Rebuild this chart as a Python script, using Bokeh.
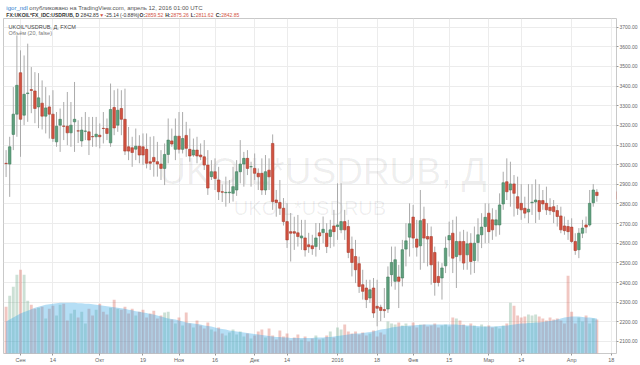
from bokeh.plotting import figure
from bokeh.layouts import column
from bokeh.models import (Range1d, FixedTicker, PrintfTickFormatter, Label, ColumnDataSource,
                          BoxAnnotation)
from bokeh.core.properties import value
from bokeh.embed import file_html
from bokeh.resources import INLINE

# ---------------- data (daily candles, 26 Aug 2015 .. 12 Apr 2016) ----------------
opens = [3007, 3003, 3154, 3257, 3468, 3252, 3362, 3382, 3375, 3294,
         3313, 3247, 3294, 3257, 3116, 3201, 3197, 3196, 3162, 3218,
         3172, 3121, 3170, 3167, 3143, 3142, 3150, 3185, 3184, 3111,
         3291, 3201, 3286, 3231, 3091, 3086, 3079, 3094, 3091, 3078,
         3015, 3037, 3015, 3003, 2981, 3052, 3121, 3078, 3145, 3078,
         3149, 3078, 3049, 3074, 3049, 3040, 2998, 2939, 2964, 2922,
         2862, 2857, 2857, 2854, 2871, 2964, 3003, 3032, 2989, 2981,
         2956, 2956, 2871, 2972, 3108, 2820, 2807, 2778, 2710, 2659,
         2659, 2653, 2627, 2627, 2592, 2587, 2583, 2653, 2654, 2651,
         2634, 2688, 2685, 2668, 2710, 2685, 2570, 2532, 2496, 2389,
         2372, 2321, 2372, 2279, 2274, 2262, 2265, 2440, 2406, 2428,
         2423, 2570, 2631, 2733, 2621, 2587, 2722, 2634, 2634, 2553,
         2431, 2423, 2485, 2617, 2651, 2532, 2609, 2609, 2541, 2600,
         2512, 2604, 2643, 2685, 2753, 2719, 2693, 2693, 2800, 2913,
         2871, 2902, 2837, 2803, 2778, 2759, 2806, 2810, 2817, 2817,
         2803, 2783, 2786, 2766, 2739, 2688, 2685, 2682, 2609, 2567,
         2651, 2693, 2693, 2806, 2859.52]
highs = [3074, 3142, 3395, 3658, 3582, 3556, 3616, 3497, 3471, 3466,
         3429, 3395, 3353, 3379, 3268, 3286, 3319, 3370, 3319, 3421,
         3226, 3243, 3268, 3243, 3243, 3243, 3210, 3268, 3235, 3413,
         3379, 3387, 3379, 3387, 3192, 3142, 3184, 3150, 3159, 3159,
         3142, 3145, 3116, 3074, 3108, 3235, 3184, 3235, 3268, 3268,
         3218, 3184, 3133, 3142, 3108, 3125, 3074, 3023, 3032, 2989,
         2900, 2939, 2922, 2989, 3023, 3125, 3065, 3074, 3015, 3057,
         2981, 3032, 3049, 3032, 3154, 2871, 2922, 2830, 2805, 2754,
         2735, 2744, 2719, 2719, 2653, 2643, 2703, 2703, 2736, 2702,
         2719, 2770, 2905, 2905, 2770, 2719, 2634, 2617, 2532, 2465,
         2414, 2414, 2423, 2414, 2287, 2372, 2482, 2583, 2583, 2490,
         2617, 2702, 2803, 2795, 2719, 2871, 2786, 2702, 2685, 2583,
         2507, 2499, 2634, 2710, 2719, 2736, 2659, 2668, 2659, 2651,
         2685, 2727, 2753, 2803, 2803, 2778, 2770, 2854, 2964, 3032,
         3015, 2947, 2939, 2901, 2837, 2901, 2901, 2925, 2901, 2871,
         2888, 2829, 2820, 2795, 2786, 2736, 2719, 2727, 2651, 2677,
         2719, 2736, 2871, 2901, 2875.26]
lows = [2937, 2836, 3074, 3142, 3040, 3201, 3218, 3262, 3211, 3186,
        3179, 3159, 3133, 3116, 3091, 3065, 3125, 3099, 3091, 3065,
        3110, 3091, 3125, 3049, 3091, 3091, 3083, 3108, 3125, 3091,
        3150, 3167, 3150, 3049, 3023, 2989, 3023, 3007, 2998, 2981,
        2973, 2939, 2939, 2922, 2896, 3007, 3091, 3023, 3057, 3057,
        3040, 3015, 3040, 3007, 3023, 2973, 2846, 2922, 2871, 2820,
        2810, 2786, 2805, 2812, 2841, 2905, 2888, 2947, 2888, 2922,
        2871, 2846, 2846, 2871, 2770, 2735, 2744, 2690, 2576, 2507,
        2566, 2583, 2566, 2532, 2551, 2541, 2532, 2566, 2600, 2550,
        2575, 2583, 2617, 2651, 2617, 2524, 2431, 2397, 2347, 2313,
        2270, 2296, 2220, 2177, 2203, 2220, 2245, 2380, 2363, 2270,
        2380, 2482, 2532, 2575, 2532, 2465, 2499, 2482, 2389, 2333,
        2380, 2313, 2448, 2532, 2448, 2372, 2507, 2465, 2465, 2440,
        2448, 2507, 2575, 2600, 2600, 2617, 2634, 2643, 2770, 2820,
        2786, 2736, 2744, 2719, 2727, 2702, 2744, 2703, 2719, 2770,
        2744, 2744, 2702, 2685, 2651, 2643, 2617, 2600, 2541, 2524,
        2626, 2651, 2685, 2786, 2811.62]
closes = [3005, 3091, 3257, 3404, 3231, 3358, 3365, 3378, 3286, 3340,
          3247, 3289, 3257, 3133, 3196, 3231, 3195, 3162, 3201, 3231,
          3171, 3176, 3171, 3125, 3142, 3155, 3142, 3184, 3159, 3281,
          3187, 3277, 3231, 3069, 3069, 3062, 3094, 3049, 3049, 3007,
          3007, 3015, 3003, 2981, 3052, 3125, 3105, 3145, 3078, 3133,
          3083, 3044, 3074, 3044, 3040, 2998, 2881, 2964, 2930, 2862,
          2860, 2859, 2860, 2888, 2964, 3003, 3032, 2981, 2990, 2956,
          2938, 2871, 2964, 2938, 2812, 2807, 2778, 2710, 2617, 2651,
          2651, 2634, 2637, 2566, 2582, 2572, 2627, 2637, 2671, 2583,
          2668, 2659, 2693, 2710, 2668, 2553, 2502, 2465, 2380, 2355,
          2313, 2363, 2245, 2269, 2258, 2257, 2428, 2502, 2516, 2406,
          2567, 2612, 2699, 2626, 2580, 2715, 2626, 2621, 2490, 2400,
          2400, 2474, 2575, 2639, 2524, 2609, 2541, 2499, 2597, 2507,
          2600, 2643, 2682, 2732, 2659, 2668, 2719, 2795, 2908, 2862,
          2902, 2854, 2778, 2770, 2753, 2773, 2809, 2820, 2761, 2800,
          2770, 2766, 2761, 2736, 2668, 2664, 2659, 2609, 2563, 2651,
          2677, 2682, 2803, 2871, 2842.85]
volumes = [47, 58, 67, 79, 84, 79, 53, 49, 45,
           46, 47, 35, 45, 48, 38, 49, 50, 33, 40, 44, 36, 42, 30, 45, 38, 44, 50, 42, 39, 46, 54,
           45, 44, 47, 40, 45, 38, 42, 44, 36, 40, 43, 35, 38, 41, 42, 34, 30, 36, 28, 41,
           30, 26, 33, 28, 25, 31, 24, 22, 26, 20, 18, 21, 24, 19, 22, 17, 20, 15, 18, 22,
           24, 16, 25, 18, 14, 23, 17, 20, 13, 16, 19, 14, 17, 12, 15, 18, 14,
           15, 18, 22, 16, 26, 24, 29, 22, 20, 22, 19, 21, 18, 20, 23, 17, 21, 19,
           32, 30, 29, 31, 28, 30, 27, 31, 26, 29, 29, 27, 28, 30, 26, 28, 29, 27,
           36, 35, 33, 29, 27, 30, 28, 26, 29, 27, 28, 26, 27, 25, 28, 30,
           51, 48, 38, 36, 37, 39, 38, 39, 37, 35, 33, 36, 34, 35, 33, 30, 78, 42, 30, 36,
           32, 38, 30, 35, 34]
vol_ma = [32, 34, 36, 38, 40, 41.5, 43, 44.5, 46, 47,
          48, 49, 49.5, 50, 50.5, 51, 51, 51, 51, 51,
          50.5, 50.5, 50, 50, 49.5, 49, 48.5, 48, 47.5, 47,
          46.5, 46, 45.5, 45, 44, 43.5, 42.5, 42, 41, 40.5,
          39.5, 39, 38, 37, 36, 35, 34.5, 34, 33, 32,
          31, 30.5, 30, 29.5, 29, 28, 27.5, 27, 26, 25,
          24.5, 24, 23, 22.5, 22, 21.5, 21, 20.5, 20, 19.5,
          19, 18.5, 18, 17.5, 17, 16.5, 16.5, 16, 16, 15.5,
          15.5, 15.5, 15.5, 15.5, 15.5, 15.5, 16, 16, 16, 16.5,
          16.5, 17, 17.5, 18, 18.5, 19, 19.5, 20, 20, 20.5,
          21, 21.5, 22, 23, 24, 24.5, 25, 26, 26.5, 27,
          27.5, 27.5, 28, 28, 28.5, 28.5, 29, 29, 29, 29,
          29, 29, 29, 29, 29, 29, 28.5, 28.5, 28, 28,
          27.5, 27.5, 27, 27, 27, 27, 27, 27.5, 27.5, 28,
          28.5, 29, 29.5, 30, 30, 30.5, 30.5, 31, 31, 31.5,
          32, 32.5, 33, 34, 35, 36, 36.5, 37, 37, 37,
          36.5, 36, 36, 35.5, 35]
time_tick_index = [4, 13, 26, 38, 48, 58, 69, 78, 92, 103, 113, 123, 134, 143, 157, 168]
time_tick_labels = ["Сен", "14", "Окт", "19", "Ноя", "16", "Дек", "14", "2016",
                    "18", "Фев", "15", "Мар", "14", "Апр", "18"]
price_ticks = [2100, 2200, 2300, 2400, 2500, 2600, 2700, 2800, 2900, 3000,
               3100, 3200, 3300, 3400, 3500, 3600, 3700]

# ---------------- styling ----------------
FONT = "Liberation Sans"
UP, DN = "#5f9f7d", "#d25241"
UP_L, DN_L = "#3f7d5c", "#a83c2e"
WICK = "#ababab"
BORDER = "#c9c9c9"
HDR_H = 18          # header strip height (px)
MAIN_H = 365 - HDR_H

n = len(closes)
xs = list(range(n))
is_up = [c >= o for o, c in zip(opens, closes)]
src = ColumnDataSource(dict(
    x=xs, o=opens, h=highs, l=lows, c=closes,
    top=[max(o, c) for o, c in zip(opens, closes)],
    bot=[min(o, c) for o, c in zip(opens, closes)],
    fill=[UP if u else DN for u in is_up],
    line=[UP_L if u else DN_L for u in is_up],
    vol=volumes, ma=vol_ma,
))

X_LO, X_HI = -0.72, 169.45
P_LO, P_HI = 2038.6, 3744.1
FL, FW, FH = 3, 614, 336   # frame box inside the main figure (px)
KX = (X_HI - X_LO) / FW    # data units per px (x)
KY = (P_HI - P_LO) / FH    # price units per px (y)

# ---------------- header strip ----------------
hdr = figure(width=640, height=HDR_H, output_backend="svg", toolbar_location=None,
             x_range=Range1d(0, 640), y_range=Range1d(HDR_H, 0),
             min_border=0, min_border_left=0, min_border_right=0,
             min_border_top=0, min_border_bottom=0)
hdr.axis.visible = False
hdr.grid.visible = False
hdr.outline_line_color = None
hdr.background_fill_color = "white"
hdr.border_fill_color = "white"


def htext(fig, text, x, y, color="#333333", size="5px", bold=False):
    fig.text(x=[x], y=[y], text=[text], text_font=value(FONT), text_font_size=value(size),
             text_color=color, text_font_style="bold" if bold else "normal",
             text_baseline="alphabetic", text_align="left")


htext(hdr, "igor_ndl", 3, 7, color="#2f7fd0", size="6px")
htext(hdr, "опубликовано на TradingView.com, апрель 12, 2016 01:00 UTC", 27, 7,
      color="#555555", size="6px")
L2 = 14.5
htext(hdr, "FX:UKOIL*FX_IDC:USDRUB, D", 3, L2, bold=True)
htext(hdr, "2842.85", 80.5, L2)
htext(hdr, "▼", 100.0, L2, color=DN)
htext(hdr, "-25.14 (-0.88%)", 105.5, L2)
htext(hdr, "O:", 142.0, L2, bold=True)
htext(hdr, "2859.52", 148.0, L2, color=DN)
htext(hdr, "H:", 168.8, L2, bold=True)
htext(hdr, "2875.26", 174.6, L2, color=DN)
htext(hdr, "L:", 195.5, L2, bold=True)
htext(hdr, "2811.62", 200.7, L2, color=DN)
htext(hdr, "C:", 221.5, L2, bold=True)
htext(hdr, "2842.85", 227.3, L2, color=DN)

# ---------------- main chart ----------------
p = figure(width=640, height=MAIN_H, output_backend="svg", toolbar_location=None,
           x_range=Range1d(X_LO, X_HI), y_range=Range1d(P_LO, P_HI),
           y_axis_location="right",
           min_border_left=FL, min_border_right=640 - FL - FW,
           min_border_top=0, min_border_bottom=MAIN_H - FH)
p.extra_y_ranges = {"vol": Range1d(0, FH)}
p.background_fill_color = "white"
p.border_fill_color = "white"
p.outline_line_color = BORDER
p.outline_line_width = 1

p.xgrid.grid_line_color = "#ececec"
p.ygrid.grid_line_color = "#ececec"

yax = p.yaxis[0]
yax.ticker = FixedTicker(ticks=price_ticks)
yax.formatter = PrintfTickFormatter(format="%.2f")
yax.major_label_text_font = FONT
yax.major_label_text_font_size = "5px"
yax.major_label_text_color = "#666666"
yax.axis_line_color = None
yax.major_tick_in = 0
yax.major_tick_out = 2
yax.major_tick_line_color = "#999999"
yax.minor_tick_line_color = None
yax.major_label_standoff = 1

xax = p.xaxis[0]
xax.ticker = FixedTicker(ticks=time_tick_index)
xax.major_label_overrides = {t: s for t, s in zip(time_tick_index, time_tick_labels)}
xax.major_label_text_font = FONT
xax.major_label_text_font_size = "5.5px"
xax.major_label_text_color = "#666666"
xax.axis_line_color = None
xax.major_tick_in = 0
xax.major_tick_out = 2
xax.major_tick_line_color = "#999999"
xax.minor_tick_line_color = None
xax.major_label_standoff = 1


def dx(cx):
    """page x (px) -> data x, for placing text"""
    return X_LO + (cx - FL) * KX


def dy(cy):
    """page y (px) -> price, for placing text"""
    return P_HI - (cy - HDR_H) * KY


# outer box around pane + both scales
p.add_layout(BoxAnnotation(left=X_LO, right=X_HI + 21 * KX, bottom=P_LO - 9 * KY, top=P_HI,
                           fill_alpha=0, line_color=BORDER, line_width=1))

# watermark
p.add_layout(Label(x=dx(323), y=dy(171), text="UKOIL*USDRUB, Д", text_font=FONT,
                   text_font_size="37px", text_color="#000000", text_alpha=0.065,
                   text_align="center", text_baseline="middle", level="underlay"))
p.add_layout(Label(x=dx(310), y=dy(208), text="UKOIL*USDRUB", text_font=FONT,
                   text_font_size="20px", text_color="#000000", text_alpha=0.065,
                   text_align="center", text_baseline="middle", level="underlay"))

# volume bars + MA area
p.vbar(x="x", width=0.8, top="vol", bottom=0, source=src, y_range_name="vol",
       fill_color="fill", fill_alpha=0.32, line_color=None)
p.varea(x="x", y1=0, y2="ma", source=src, y_range_name="vol",
        fill_color="#3ca9e6", fill_alpha=0.38)

# candles
p.segment(x0="x", y0="h", x1="x", y1="l", source=src, line_color=WICK, line_width=1)
p.vbar(x="x", width=0.7, top="top", bottom="bot", source=src,
       fill_color="fill", line_color="line", line_width=0.6)

# pane legend
htext(p, "UKOIL*USDRUB, Д, FXCM", dx(8), dy(27), color="#444444", size="5.5px")
htext(p, "Объём (20, false)", dx(8), dy(33), color="#777777", size="5.5px")

# last price tag on the price scale
p.add_layout(BoxAnnotation(left=X_HI, right=X_HI + 21 * KX,
                           bottom=closes[-1] - 4 * KY, top=closes[-1] + 4 * KY,
                           fill_color=DN, fill_alpha=1.0, line_color=None))
p.add_layout(Label(x=X_HI + 2.5 * KX, y=closes[-1], text=f"{closes[-1]:.2f}",
                   text_font=FONT, text_font_size="6px", text_color="white",
                   text_baseline="middle"))

layout = column(hdr, p, spacing=0)
open("out.html", "w").write(file_html(layout, INLINE))
